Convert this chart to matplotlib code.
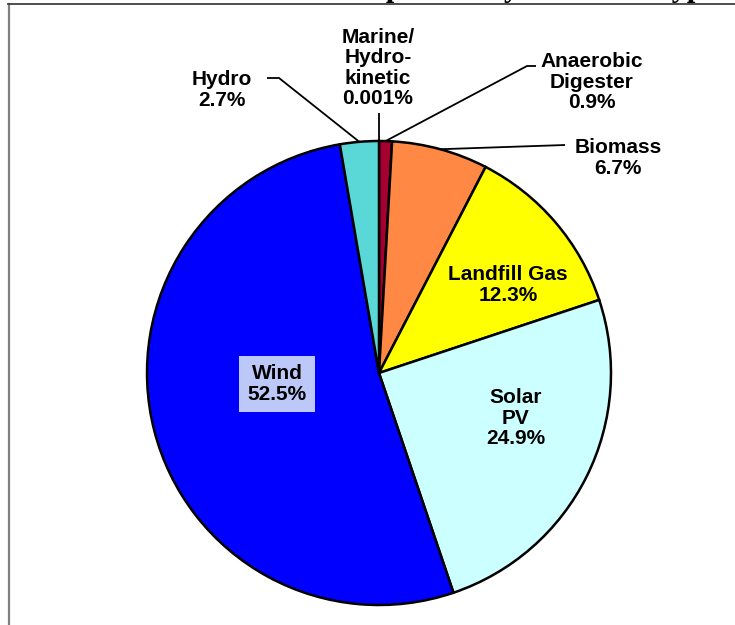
import numpy as np
import matplotlib
matplotlib.use("Agg")
import matplotlib.pyplot as plt
from matplotlib.lines import Line2D

# capacity share by resource, clockwise from 12 o'clock
resources = ["Marine/\nHydro-\nkinetic", "Anaerobic\nDigester", "Biomass",
             "Landfill Gas", "Solar\nPV", "Wind", "Hydro"]
shares = [0.001, 0.9, 6.7, 12.3, 24.9, 52.5, 2.7]
pct_text = ["0.001%", "0.9%", "6.7%", "12.3%", "24.9%", "52.5%", "2.7%"]
colors = ["#7F0020", "#A50030", "#FF8844", "#FFFF00", "#CCFFFF", "#0000FF", "#5AD8D8"]

W, H = 735, 625
fig = plt.figure(figsize=(W / 100, H / 100), dpi=100)
ax = fig.add_axes([0, 0, 1, 1])

cx, cy, r = 379, H - 373, 232
wedges, _ = ax.pie(shares, colors=colors, startangle=90, counterclock=False,
                   center=(cx, cy), radius=r, frame=True,
                   wedgeprops=dict(edgecolor="black", linewidth=1.8))
ax.set_xlim(0, W)
ax.set_ylim(0, H)
ax.set_aspect("equal")
ax.axis("off")

lab_font = dict(family=["Liberation Sans", "DejaVu Sans"], fontweight="bold",
                fontsize=15, ha="center", va="center", linespacing=1.1)


def edge_point(w):
    mid = np.deg2rad((w.theta1 + w.theta2) / 2)
    return cx + r * np.cos(mid), cy + r * np.sin(mid)


# label centre (pixels from top-left) and leader path from the wedge edge
layout = {
    0: ((378, 68), [(379, 113)]),
    1: ((592, 82), [(527, 66), (536, 66)]),
    2: ((618, 158), [(565, 145)]),
    3: ((508, 285), None),
    4: ((516, 418), None),
    5: ((277, 384), None),
    6: ((222, 90), [(279, 78), (267, 78)]),
}

for i, (w, name, pct) in enumerate(zip(wedges, resources, pct_text)):
    (tx, ty), path = layout[i]
    kw = dict(lab_font)
    if i == 5:
        kw["bbox"] = dict(facecolor="#BCC8F8", edgecolor="none", pad=6)
    ax.text(tx, H - ty, f"{name}\n{pct}", **kw)
    if path:
        ex, ey = edge_point(w)
        xs = [ex] + [p[0] for p in path]
        ys = [ey] + [H - p[1] for p in path]
        ax.plot(xs, ys, color="black", lw=1.3, solid_capstyle="butt", zorder=0.5)

# chart area frame (left and top edges only)
fig.add_artist(Line2D([8.5 / W, 8.5 / W], [0, 1 - 4 / H], color="#808080", lw=1.6))
fig.add_artist(Line2D([8 / W, 1], [1 - 4 / H, 1 - 4 / H], color="#404040", lw=1.3))

# title sits mostly above the visible area
fig.text(258 / W, 1 + 4 / H, "RPS Compliance by Resource Type",
         family=["Liberation Serif", "DejaVu Serif"], fontweight="bold",
         fontsize=22, ha="left", va="baseline")

fig.savefig("out.png", dpi=100)
